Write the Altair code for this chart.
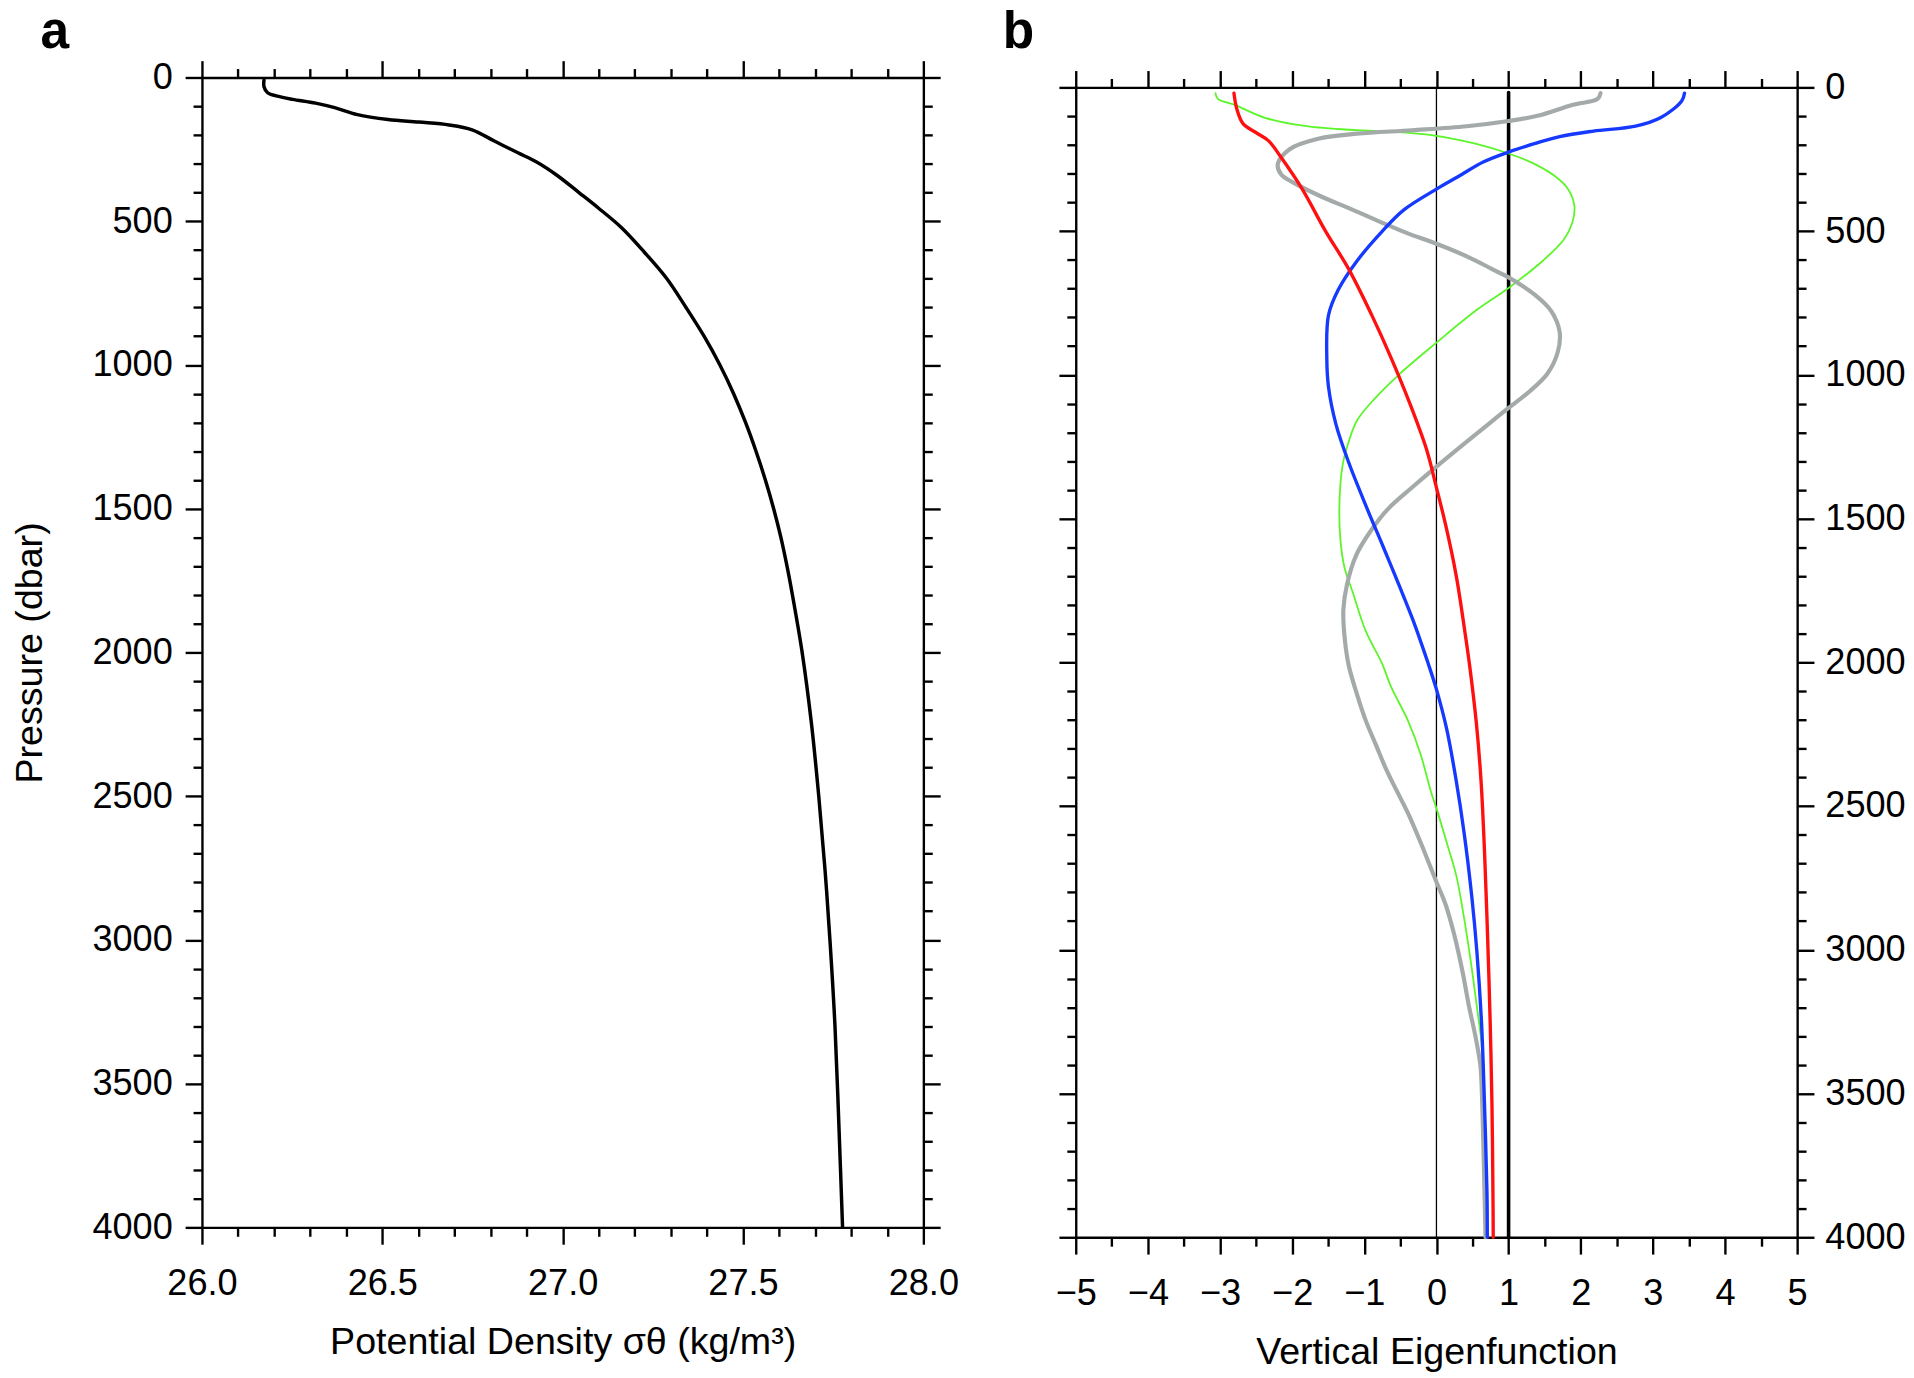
import altair as alt
import pandas as pd

FONT = "Liberation Sans"
LBL = 36.5    # tick label size
TTL = 38      # axis title size

# ---------------- panel a : potential density profile ----------------
density_pressure = [9, 32, 53, 65, 76, 89, 105, 129, 146, 155, 165, 182, 222, 262, 295, 341,
                    401, 454, 521, 607, 700, 800, 900, 1000, 1100, 1200, 1300, 1400, 1500,
                    1600, 1700, 1800, 2000, 2250, 2500, 2750, 3000, 3300, 3650, 4000]
density_sigma = [26.172, 26.172, 26.182, 26.209, 26.251, 26.315, 26.368, 26.431, 26.516,
                 26.601, 26.685, 26.749, 26.812, 26.876, 26.929, 26.985, 27.046, 27.099,
                 27.162, 27.226, 27.289, 27.342, 27.392, 27.436, 27.474, 27.507, 27.536,
                 27.562, 27.585, 27.605, 27.622, 27.637, 27.664, 27.690, 27.710, 27.727,
                 27.741, 27.755, 27.766, 27.776]

# ---------------- panel b : vertical eigenfunctions ----------------
zero_p = [0, 4000]
zero_x = [0.0, 0.0]

mode0_p = [18, 4000]
mode0_x = [1.0, 1.0]

red_p = [20, 76, 127, 157, 186, 244, 354, 500, 632, 793, 939, 1100, 1261, 1392, 1524,
         1700, 1890, 2011, 2216, 2420, 2669, 2961, 3254, 3546, 3897, 4000]
red_x = [-2.807, -2.766, -2.678, -2.503, -2.327, -2.152, -1.86, -1.538, -1.216, -0.895,
         -0.632, -0.368, -0.135, 0.0, 0.129, 0.275, 0.392, 0.46, 0.555, 0.62, 0.668,
         0.71, 0.745, 0.77, 0.785, 0.787]

blue_p = [20, 47, 105, 135, 152, 171, 196, 225, 259, 310, 354, 427, 500, 603, 705, 793,
          939, 1041, 1173, 1305, 1466, 1597, 1743, 1850, 1934, 2000, 2094, 2230, 2406,
          2596, 2815, 3005, 3254, 3546, 3839, 4000]
blue_x = [3.439, 3.40, 3.111, 2.76, 2.175, 1.708, 1.357, 1.0, 0.655, 0.304, 0.0, -0.456,
          -0.749, -1.099, -1.363, -1.497, -1.52, -1.497, -1.392, -1.216, -0.96, -0.74,
          -0.5, -0.33, -0.21, -0.12, 0.0, 0.14, 0.27, 0.385, 0.49, 0.56, 0.625, 0.667,
          0.70, 0.705]

green_p = [20, 40, 61, 105, 135, 149, 154, 167, 196, 230, 266, 310, 354, 412, 471, 529,
           603, 698, 778, 888, 998, 1085, 1158, 1232, 1319, 1451, 1568, 1670, 1758, 1890,
           2007, 2084, 2201, 2318, 2450, 2508, 2640, 2742, 2903, 3078, 3210, 3327, 3473,
           3663, 4000]
green_x = [-3.064, -3.03, -2.795, -2.386, -1.801, -1.099, -0.632, -0.047, 0.538, 1.0,
           1.357, 1.649, 1.825, 1.912, 1.883, 1.766, 1.474, 1.0, 0.538, 0.0, -0.515,
           -0.865, -1.099, -1.216, -1.304, -1.345, -1.333, -1.275, -1.158, -0.982, -0.749,
           -0.632, -0.398, -0.222, -0.076, 0.0, 0.158, 0.275, 0.392, 0.497, 0.567, 0.626,
           0.655, 0.667, 0.68]

grey_p = [20, 40, 61, 98, 117, 135, 149, 161, 178, 215, 266, 303, 332, 383, 420, 471, 508,
          544, 588, 632, 661, 720, 778, 851, 924, 998, 1056, 1115, 1173, 1232, 1319, 1392,
          1466, 1539, 1626, 1729, 1817, 1908, 2011, 2113, 2201, 2289, 2376, 2450, 2523,
          2625, 2698, 2764, 2844, 2947, 3078, 3195, 3298, 3400, 3473, 4000]
grey_x = [2.275, 2.234, 1.883, 1.415, 1.0, 0.421, -0.339, -1.099, -1.626, -2.035, -2.199,
          -2.152, -1.977, -1.567, -1.216, -0.749, -0.398, 0.0, 0.421, 0.772, 1.0, 1.357,
          1.591, 1.708, 1.678, 1.532, 1.298, 1.0, 0.713, 0.421, 0.0, -0.339, -0.67, -0.9,
          -1.11, -1.24, -1.29, -1.275, -1.216, -1.099, -0.982, -0.836, -0.69, -0.544,
          -0.398, -0.222, -0.105, 0.0, 0.129, 0.246, 0.363, 0.45, 0.538, 0.608, 0.626, 0.68]

# ---------------- ticks ----------------
p_major = [0, 500, 1000, 1500, 2000, 2500, 3000, 3500, 4000]
p_minor = [v for v in range(100, 4000, 100) if v % 500]
a_major = [26.0, 26.5, 27.0, 27.5, 28.0]
a_minor = [26.1, 26.2, 26.3, 26.4, 26.6, 26.7, 26.8, 26.9, 27.1, 27.2, 27.3, 27.4,
           27.6, 27.7, 27.8, 27.9]
b_major = [-5, -4, -3, -2, -1, 0, 1, 2, 3, 4, 5]
b_minor = [-4.5, -3.5, -2.5, -1.5, -0.5, 0.5, 1.5, 2.5, 3.5, 4.5]

MAJ, MIN = 17, 9


def ax(orient, values, size, labels=False, domain=False, title=None, fmt=None,
       label_pad=13, title_pad=20, offset=0):
    kw = dict(orient=orient, values=values, tickSize=size, tickWidth=2.4, tickColor="black",
              labels=labels, domain=domain, domainColor="black", domainWidth=2.4,
              domainCap="square", grid=False, labelFont=FONT, labelFontSize=LBL,
              labelColor="black", labelFlush=False, labelOverlap=False,
              labelPadding=label_pad, titleFont=FONT, titleFontSize=TTL,
              titleFontWeight="normal", titleColor="black", titlePadding=title_pad,
              title=title)
    if offset:
        kw["offset"] = offset
    if fmt:
        kw["format"] = fmt
    return alt.Axis(**kw)


W, H = 729, 1162
SHIFT = 10  # panel a's frame sits a little higher than panel b's

# ---------------- panel a ----------------
dfa = pd.DataFrame({"p": density_pressure, "s": density_sigma})
xa = alt.Scale(domain=[26, 28], nice=False, zero=False)
ya = alt.Scale(domain=[0, 4000], range=[-SHIFT, H - SHIFT], nice=False, zero=False)


def layer_a(xaxis, yaxis, visible):
    return alt.Chart(dfa).mark_line(
        color="black", strokeWidth=3.5, strokeOpacity=1 if visible else 0,
        interpolate="catmull-rom", strokeJoin="round", strokeCap="round"
    ).encode(
        x=alt.X("s:Q", scale=xa, axis=xaxis),
        y=alt.Y("p:Q", scale=ya, axis=yaxis),
        order=alt.Order("p:Q"),
    )


panel_a = alt.layer(
    layer_a(ax("bottom", a_major, MAJ, labels=True, domain=True,
               title="Potential Density σθ (kg/m³)", fmt=".1f", label_pad=22, title_pad=22),
            ax("left", p_major, MAJ, labels=True, domain=True, title="Pressure (dbar)",
               fmt="d", label_pad=13, title_pad=43), True),
    layer_a(ax("bottom", a_minor, MIN), ax("left", p_minor, MIN), False),
    layer_a(ax("top", a_major, MAJ, domain=True, offset=SHIFT),
            ax("right", p_major, MAJ, domain=True), False),
    layer_a(ax("top", a_minor, MIN, offset=SHIFT), ax("right", p_minor, MIN), False),
).resolve_axis(x="independent", y="independent").properties(
    width=W, height=H - SHIFT,
    title=alt.TitleParams("a", anchor="start", fontSize=52, fontWeight="bold", font=FONT,
                          color="black", dx=29, offset=1),
)

# ---------------- panel b ----------------
xb = alt.Scale(domain=[-5, 5], nice=False, zero=False)
yb = alt.Scale(domain=[0, 4000], reverse=True, nice=False, zero=False)


def curve(px, xs, color, width, xaxis=None, yaxis=None, visible=True):
    df = pd.DataFrame({"p": px, "v": xs})
    return alt.Chart(df).mark_line(
        color=color, strokeWidth=width, strokeOpacity=1 if visible else 0,
        interpolate="catmull-rom", strokeJoin="round", strokeCap="round"
    ).encode(
        x=alt.X("v:Q", scale=xb, axis=xaxis),
        y=alt.Y("p:Q", scale=yb, axis=yaxis),
        order=alt.Order("p:Q"),
    )


panel_b = alt.layer(
    curve(red_p, red_x, "black", 1,
          ax("bottom", b_major, MAJ, labels=True, domain=True, title="Vertical Eigenfunction",
             fmt="d", label_pad=22, title_pad=22),
          ax("left", p_major, MAJ, domain=True), visible=False),
    curve(red_p, red_x, "black", 1, ax("bottom", b_minor, MIN), ax("left", p_minor, MIN),
          visible=False),
    curve(red_p, red_x, "black", 1, ax("top", b_major, MAJ, domain=True),
          ax("right", p_major, MAJ, labels=True, domain=True, fmt="d", label_pad=11),
          visible=False),
    curve(red_p, red_x, "black", 1, ax("top", b_minor, MIN), ax("right", p_minor, MIN),
          visible=False),
    curve(zero_p, zero_x, "black", 1.3),
    curve(mode0_p, mode0_x, "black", 3.6),
    curve(green_p, green_x, "#5cf52a", 1.8),
    curve(grey_p, grey_x, "#a4aaaa", 4.2),
    curve(blue_p, blue_x, "#1639ff", 3.4),
    curve(red_p, red_x, "#ff1010", 3.4),
).resolve_axis(x="independent", y="independent").properties(
    width=W, height=H,
    title=alt.TitleParams("b", anchor="start", fontSize=52, fontWeight="bold", font=FONT,
                          color="black", dx=-53, offset=1 + SHIFT),
)

chart = alt.hconcat(panel_a, panel_b, spacing=44).properties(
    padding={"left": 3, "top": -10, "right": 0, "bottom": 0},
    background="white",
).configure_view(stroke=None)

chart.save("out.html", embed_options={"renderer": "svg", "actions": False})
